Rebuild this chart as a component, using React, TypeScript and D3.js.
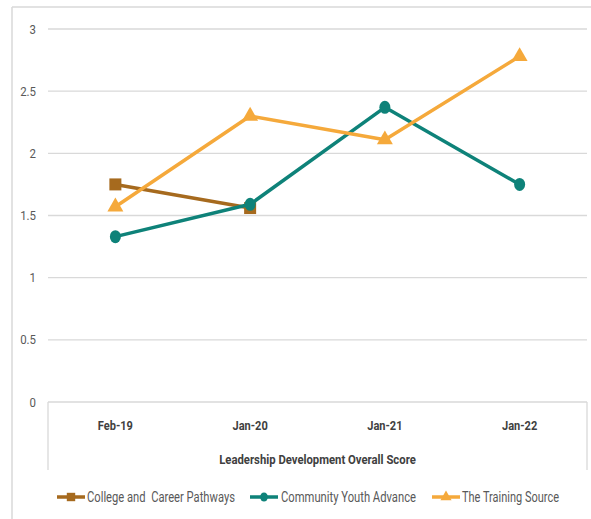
import React from "react";
import * as d3 from "d3";

const categories = ["Feb-19", "Jan-20", "Jan-21", "Jan-22"];
const collegeValues: (number | null)[] = [1.75, 1.56, null, null];
const communityValues: (number | null)[] = [1.33, 1.59, 2.37, 1.75];
const trainingValues: (number | null)[] = [1.57, 2.3, 2.11, 2.78];
const yTicks = [0, 0.5, 1, 1.5, 2, 2.5, 3];
const seriesNames = ["College and  Career Pathways", "Community Youth Advance", "The Training Source"];
const axisTitle = "Leadership Development Overall Score";

const colors = ["#A66A1E", "#0E8279", "#F5A93B"];
const FONT = "'Liberation Sans Narrow', 'Arial Narrow', Roboto, sans-serif";

export default function App() {
  const W = 591, H = 519;
  const left = 48, right = 587, top = 29, bottom = 402;
  const x = d3.scaleBand<string>().domain(categories).range([left, right]);
  const y = d3.scaleLinear().domain([0, 3]).range([bottom, top]);
  const cx = (c: string) => (x(c) as number) + x.bandwidth() / 2;

  const series = [collegeValues, communityValues, trainingValues];
  const line = d3
    .line<[string, number | null]>()
    .defined((d) => d[1] != null)
    .x((d) => cx(d[0]))
    .y((d) => y(d[1] as number));

  const marker = (k: number, px: number, py: number, key: string, s = 1) => {
    if (k === 0)
      return <rect key={key} x={px - 6 * s} y={py - 6 * s} width={12 * s} height={12 * s} fill={colors[0]} />;
    if (k === 1) return <ellipse key={key} cx={px} cy={py} rx={5.5 * s} ry={6.5 * s} fill={colors[1]} />;
    const tri = d3.symbol().type(d3.symbolTriangle).size(110 * s * s)();
    return <path key={key} d={tri as string} transform={`translate(${px},${py})`} fill={colors[2]} />;
  };

  const legendItems = [
    { lx: 57, tx: 87, w: 148 },
    { lx: 250, tx: 281, w: 135 },
    { lx: 432, tx: 462, w: 97 },
  ];

  return (
    <svg width={W} height={H} style={{ position: "absolute", left: 0, top: 0, background: "#fff" }}>
      <rect x={0} y={0} width={W} height={H} fill="#fff" />
      {/* outer frame */}
      <line x1={12} x2={W} y1={7} y2={7} stroke="#D9D9D9" strokeWidth={1.5} />
      <line x1={12} x2={12} y1={7} y2={H} stroke="#D9D9D9" strokeWidth={1.5} />
      {/* gridlines */}
      {yTicks.map((t) => (
        <line key={t} x1={left} x2={right} y1={y(t)} y2={y(t)} stroke="#D9D9D9" strokeWidth={1.3} />
      ))}
      {/* category box */}
      <line x1={left} x2={left} y1={bottom} y2={470} stroke="#D9D9D9" strokeWidth={1.3} />
      <line x1={right} x2={right} y1={bottom} y2={470} stroke="#D9D9D9" strokeWidth={1.3} />
      {/* y tick labels */}
      {yTicks.map((t) => (
        <text
          key={t}
          transform={`translate(36,${y(t) + 4.5}) scale(0.88,1)`}
          textAnchor="end"
          fontFamily={FONT}
          fontSize={13}
          fill="#595959"
        >
          {String(t)}
        </text>
      ))}
      {/* x labels */}
      {categories.map((c) => (
        <text
          key={c}
          transform={`translate(${cx(c)},430) scale(0.85,1)`}
          textAnchor="middle"
          fontFamily={FONT}
          fontSize={13}
          fontWeight="bold"
          fill="#404040"
        >
          {c}
        </text>
      ))}
      <text
        transform={`translate(${(left + right) / 2},464) scale(0.87,1)`}
        textAnchor="middle"
        fontFamily={FONT}
        fontSize={13}
        fontWeight="bold"
        fill="#404040"
      >
        {axisTitle}
      </text>
      {/* lines */}
      {series.map((vals, k) => (
        <g key={k}>
          <path
            d={line(categories.map((c, i) => [c, vals[i]]) as [string, number | null][]) as string}
            fill="none"
            stroke={colors[k]}
            strokeWidth={3.5}
            strokeLinejoin="round"
          />
          {vals.map((v, i) => (v == null ? null : marker(k, cx(categories[i]), y(v), `${k}-${i}`)))}
        </g>
      ))}
      {/* legend */}
      {legendItems.map((it, k) => (
        <g key={k}>
          <line x1={it.lx} x2={it.lx + 28} y1={497} y2={497} stroke={colors[k]} strokeWidth={3.5} />
          {marker(k, it.lx + 14, 497, `leg-${k}`, 0.7)}
          <text
            x={it.tx}
            y={502}
            fontFamily={FONT}
            fontSize={14}
            fill="#595959"
            textLength={it.w}
            lengthAdjust="spacingAndGlyphs"
            style={{ whiteSpace: "pre" }}
          >
            {seriesNames[k]}
          </text>
        </g>
      ))}
    </svg>
  );
}
